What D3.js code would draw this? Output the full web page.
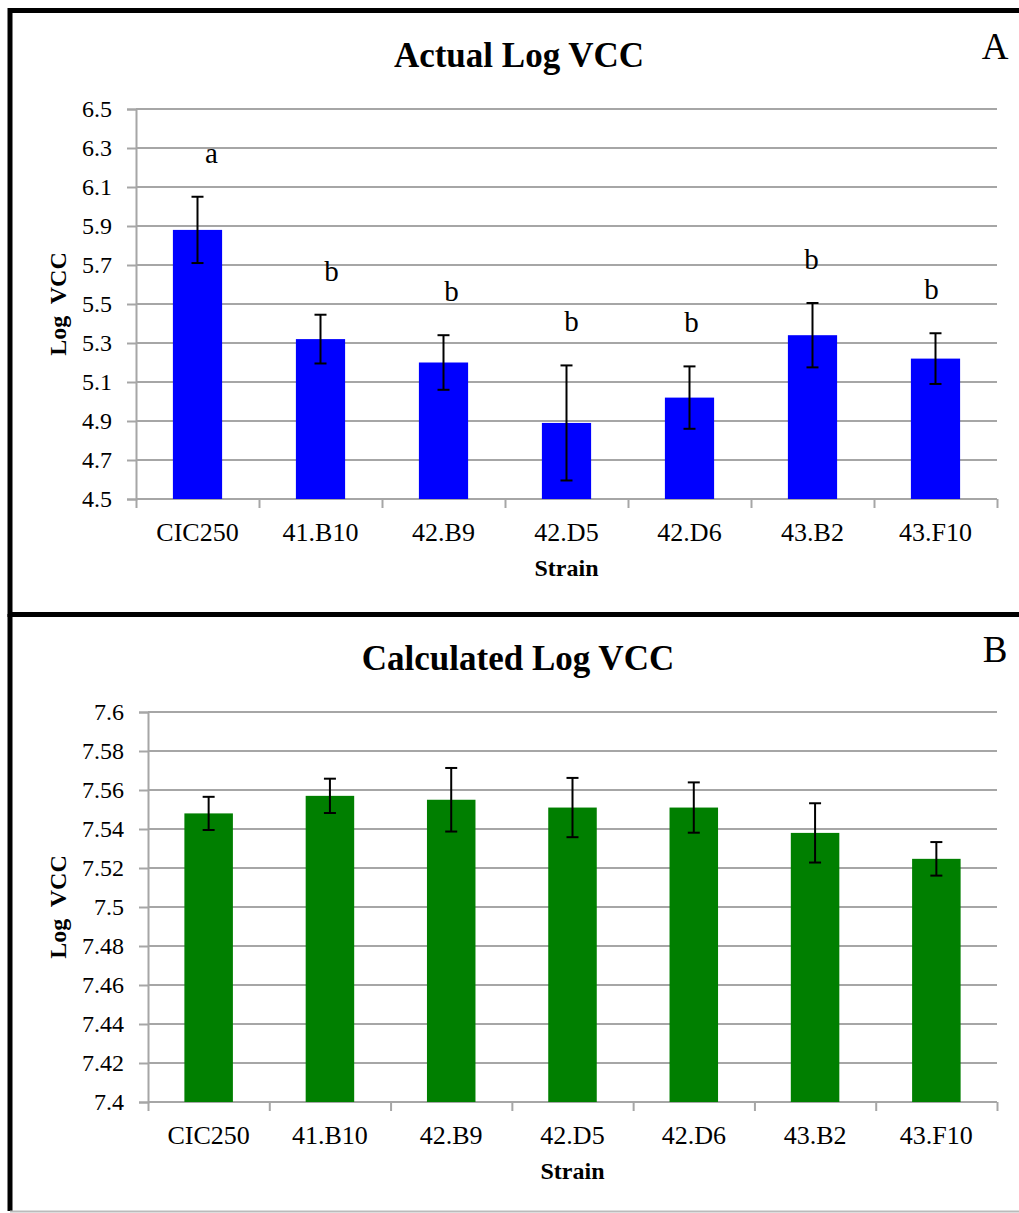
<!DOCTYPE html>
<html><head><meta charset="utf-8">
<script src="https://cdn.jsdelivr.net/npm/d3@7/dist/d3.min.js"></script>
<style>
html,body{margin:0;padding:0;background:#fff;}
svg{display:block;}
svg text{font-family:"Liberation Serif","Times New Roman",serif !important;fill:#000;}
</style></head>
<body>
<svg id="chart" width="1019" height="1213"></svg>
<script>
// ---- data ----
const strains = ["CIC250","41.B10","42.B9","42.D5","42.D6","43.B2","43.F10"];
const actualMeans = [5.88, 5.32, 5.20, 4.89, 5.02, 5.34, 5.22];
const actualErrors = [0.17, 0.125, 0.14, 0.295, 0.16, 0.165, 0.13];
const actualLetters = ["a","b","b","b","b","b","b"];
const actualTicks = [4.5,4.7,4.9,5.1,5.3,5.5,5.7,5.9,6.1,6.3,6.5];
const calcMeans = [7.548, 7.557, 7.555, 7.551, 7.551, 7.538, 7.5247];
const calcErrors = [0.0085, 0.0088, 0.0163, 0.0152, 0.0129, 0.0152, 0.0086];
const calcTicks = [7.4,7.42,7.44,7.46,7.48,7.5,7.52,7.54,7.56,7.58,7.6];

const SERIF = "'Liberation Serif','Times New Roman',serif";
const svg = d3.select("#chart");

// panel frames
svg.append("rect").attr("x",10).attr("y",10.5).attr("width",1019).attr("height",604)
  .attr("fill","none").attr("stroke","#000").attr("stroke-width",5);
svg.append("line").attr("x1",10).attr("x2",10).attr("y1",614).attr("y2",1211)
  .attr("stroke","#000").attr("stroke-width",5);
svg.append("line").attr("x1",10).attr("x2",1019).attr("y1",1211.5).attr("y2",1211.5)
  .attr("stroke","#bbb").attr("stroke-width",2);

function panel(cfg){
  const g = svg.append("g").attr("font-family",SERIF);
  const x = d3.scaleBand().domain(strains).range([cfg.left, cfg.right]).paddingInner(0.6).paddingOuter(0.3);
  const y = d3.scaleLinear().domain(cfg.domain).range([cfg.bottom, cfg.top]);

  // gridlines
  g.append("g").selectAll("line").data(cfg.ticks.slice(1)).join("line")
    .attr("x1",cfg.left).attr("x2",cfg.right)
    .attr("y1",d=>y(d)).attr("y2",d=>y(d))
    .attr("stroke","#a6a6a6").attr("stroke-width",2);

  // y axis
  const ya = g.append("g").attr("transform",`translate(${cfg.left},0)`)
    .call(d3.axisLeft(y).tickValues(cfg.ticks).tickSize(9).tickPadding(15).tickFormat(d=>String(+d.toFixed(2))));
  ya.attr("font-family",SERIF);
  ya.select(".domain").attr("stroke","#a6a6a6").attr("stroke-width",2);
  ya.selectAll(".tick line").attr("stroke","#a6a6a6").attr("stroke-width",2);
  ya.selectAll(".tick text").style("font-family",SERIF).style("font-size","24px").attr("fill","#222");

  // x axis
  const xb = d3.scaleLinear().domain([0,strains.length]).range([cfg.left,cfg.right]);
  const xa = g.append("g").attr("transform",`translate(0,${cfg.bottom})`)
    .call(d3.axisBottom(xb).tickValues(d3.range(strains.length+1)).tickSize(9).tickFormat(""));
  xa.select(".domain").attr("stroke","#a6a6a6").attr("stroke-width",2).attr("d",`M${cfg.left},0H${cfg.right}`);
  xa.selectAll(".tick line").attr("stroke","#a6a6a6").attr("stroke-width",2);
  g.append("g").selectAll("text").data(strains).join("text")
    .attr("x",d=>x(d)+x.bandwidth()/2).attr("y",cfg.bottom+42)
    .attr("text-anchor","middle").style("font-family",SERIF).style("font-size","26px").attr("fill","#222").text(d=>d);

  // bars
  g.append("g").selectAll("rect").data(strains).join("rect")
    .attr("x",d=>x(d)).attr("width",x.bandwidth())
    .attr("y",(d,i)=>y(cfg.means[i])).attr("height",(d,i)=>cfg.bottom-y(cfg.means[i]))
    .attr("fill",cfg.color);

  // error bars
  const eb = g.append("g").attr("stroke","#000").attr("stroke-width",2);
  strains.forEach((s,i)=>{
    const cx = x(s)+x.bandwidth()/2;
    const hi = y(cfg.means[i]+cfg.errors[i]), lo = y(cfg.means[i]-cfg.errors[i]);
    eb.append("line").attr("x1",cx).attr("x2",cx).attr("y1",hi).attr("y2",lo);
    eb.append("line").attr("x1",cx-6).attr("x2",cx+6).attr("y1",hi).attr("y2",hi);
    eb.append("line").attr("x1",cx-6).attr("x2",cx+6).attr("y1",lo).attr("y2",lo);
  });

  // letters
  if(cfg.letters){
    g.append("g").selectAll("text").data(strains).join("text")
      .attr("x",(d,i)=>x(d)+x.bandwidth()/2+14-3*i)
      .attr("y",(d,i)=>y(cfg.means[i]+cfg.errors[i])-34)
      .attr("text-anchor","middle").style("font-family",SERIF).style("font-size","29px").text((d,i)=>cfg.letters[i]);
  }

  // title
  g.append("text").attr("x",cfg.titleX).attr("y",cfg.titleY).attr("text-anchor","middle")
    .style("font-family",SERIF).style("font-size","35px").style("font-weight","bold").text(cfg.title);
  g.append("text").attr("x",995).attr("y",cfg.titleY-8).attr("text-anchor","middle")
    .style("font-family",SERIF).style("font-size","37px").text(cfg.tag);
  // axis titles
  g.append("text").attr("transform",`translate(66,${(cfg.top+cfg.bottom)/2}) rotate(-90)`)
    .attr("text-anchor","middle").style("font-family",SERIF).style("font-size","24px").style("font-weight","bold")
    .attr("xml:space","preserve").text("Log  VCC");
  g.append("text").attr("x",(cfg.left+cfg.right)/2).attr("y",cfg.bottom+77)
    .attr("text-anchor","middle").style("font-family",SERIF).style("font-size","24px").style("font-weight","bold").text("Strain");
}

panel({left:136,right:997,top:109,bottom:499,domain:[4.5,6.5],ticks:actualTicks,
  means:actualMeans,errors:actualErrors,letters:actualLetters,color:"#0000ff",
  title:"Actual Log VCC",titleX:519,titleY:67,tag:"A"});
panel({left:148,right:997,top:712,bottom:1102,domain:[7.4,7.6],ticks:calcTicks,
  means:calcMeans,errors:calcErrors,letters:null,color:"#007f00",
  title:"Calculated Log VCC",titleX:518,titleY:670,tag:"B"});
</script>
</body></html>
